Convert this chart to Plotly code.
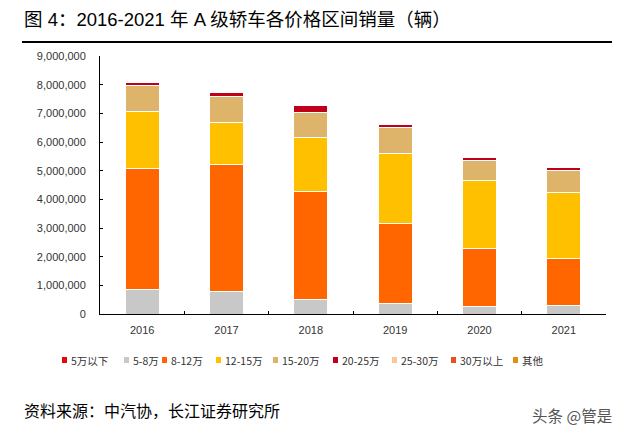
import plotly.graph_objects as go

years = ["2016", "2017", "2018", "2019", "2020", "2021"]
series_names = ["5万以下", "5-8万", "8-12万", "12-15万", "15-20万", "20-25万", "25-30万", "30万以上", "其他"]
v_below5 = [0, 0, 0, 0, 0, 0]
v_5_8 = [850000, 790000, 520000, 360000, 270000, 300000]
v_8_12 = [4230000, 4430000, 3740000, 2810000, 2030000, 1650000]
v_12_15 = [1970000, 1470000, 1890000, 2430000, 2350000, 2300000]
v_15_20 = [910000, 880000, 890000, 900000, 720000, 740000]
v_20_25 = [110000, 160000, 250000, 120000, 80000, 110000]
v_25_30 = [0, 0, 0, 0, 0, 0]
v_30plus = [0, 0, 0, 0, 0, 0]
v_other = [0, 0, 0, 0, 0, 0]
series_values = [v_below5, v_5_8, v_8_12, v_12_15, v_15_20, v_20_25, v_25_30, v_30plus, v_other]
colors = ["#E00A0A", "#C8C8C8", "#FF6600", "#FFC000", "#DDB46A", "#C0001A", "#F8C89A", "#E8501E", "#E0900F"]
y_ticks = [0, 1000000, 2000000, 3000000, 4000000, 5000000, 6000000, 7000000, 8000000, 9000000]

W, H = 640, 438
L, R, T, B = 100, 606, 56, 314

def px(x):
    return (x - L) / (R - L)

def py(y):
    return (B - y) / (B - T)

fig = go.Figure()
for name, vals, col in zip(series_names, series_values, colors):
    fig.add_trace(go.Bar(x=years, y=vals, name=name, marker=dict(color=col, line=dict(color="white", width=1)),
                         showlegend=False))

font_main = "Liberation Sans, Arial, Noto Sans CJK SC, sans-serif"
font_cjk = "Noto Sans CJK SC, Liberation Sans, sans-serif"

fig.update_layout(
    width=W, height=H, barmode="stack", bargap=0.6,
    margin=dict(l=L, r=W - R, t=T, b=H - B),
    plot_bgcolor="white", paper_bgcolor="white",
    font=dict(family=font_main, size=11, color="#404040"),
    xaxis=dict(showline=True, linecolor="#000000", linewidth=1, ticks="inside", ticklen=3,
               tickcolor="#000000", tickson="boundaries", showgrid=False, ticklabelstandoff=6,
               tickfont=dict(size=11, color="#333333")),
    yaxis=dict(range=[0, 9000000], tickvals=y_ticks, tickformat=",d", showline=True,
               linecolor="#000000", linewidth=1, ticks="inside", ticklen=3, tickcolor="#000000",
               showgrid=False, zeroline=False, ticklabelstandoff=11,
               tickfont=dict(size=11, color="#333333")),
)

annotations = []
shapes = []
annotations.append(dict(text="图 4：2016-2021 年 A 级轿车各价格区间销量（辆）", x=px(22), y=py(20), xref="paper", yref="paper",
                        xanchor="left", yanchor="middle", showarrow=False,
                        font=dict(family=font_main, size=18.5, color="#000000")))
shapes.append(dict(type="line", xref="paper", yref="paper", x0=px(22), x1=px(612), y0=py(42), y1=py(42),
                   line=dict(color="#000000", width=2), layer="above"))

legend_x = [62, 124, 162, 216, 273, 333, 392, 451, 513]
ly = 360
for name, col, lx in zip(series_names, colors, legend_x):
    shapes.append(dict(type="rect", xref="paper", yref="paper", x0=px(lx), x1=px(lx + 5), y0=py(ly + 3), y1=py(ly - 3),
                       fillcolor=col, line=dict(width=0)))
    annotations.append(dict(text=name, x=px(lx + 7), y=py(ly), xref="paper", yref="paper", xanchor="left",
                            yanchor="middle", showarrow=False, font=dict(family=font_cjk, size=10.5, color="#333333")))

annotations.append(dict(text="资料来源：中汽协，长江证券研究所", x=px(22), y=py(410), xref="paper", yref="paper",
                        xanchor="left", yanchor="middle", showarrow=False,
                        font=dict(family=font_cjk, size=16, color="#000000")))
annotations.append(dict(text="头条 @管是", x=px(614), y=py(415), xref="paper", yref="paper",
                        xanchor="right", yanchor="middle", showarrow=False,
                        font=dict(family=font_cjk, size=15.5, color="#555555")))

fig.update_layout(annotations=annotations, shapes=shapes)
fig.write_html("out.html", config={"displayModeBar": False, "responsive": False},
               post_script="document.body.style.margin='0';document.body.style.padding='0';")
